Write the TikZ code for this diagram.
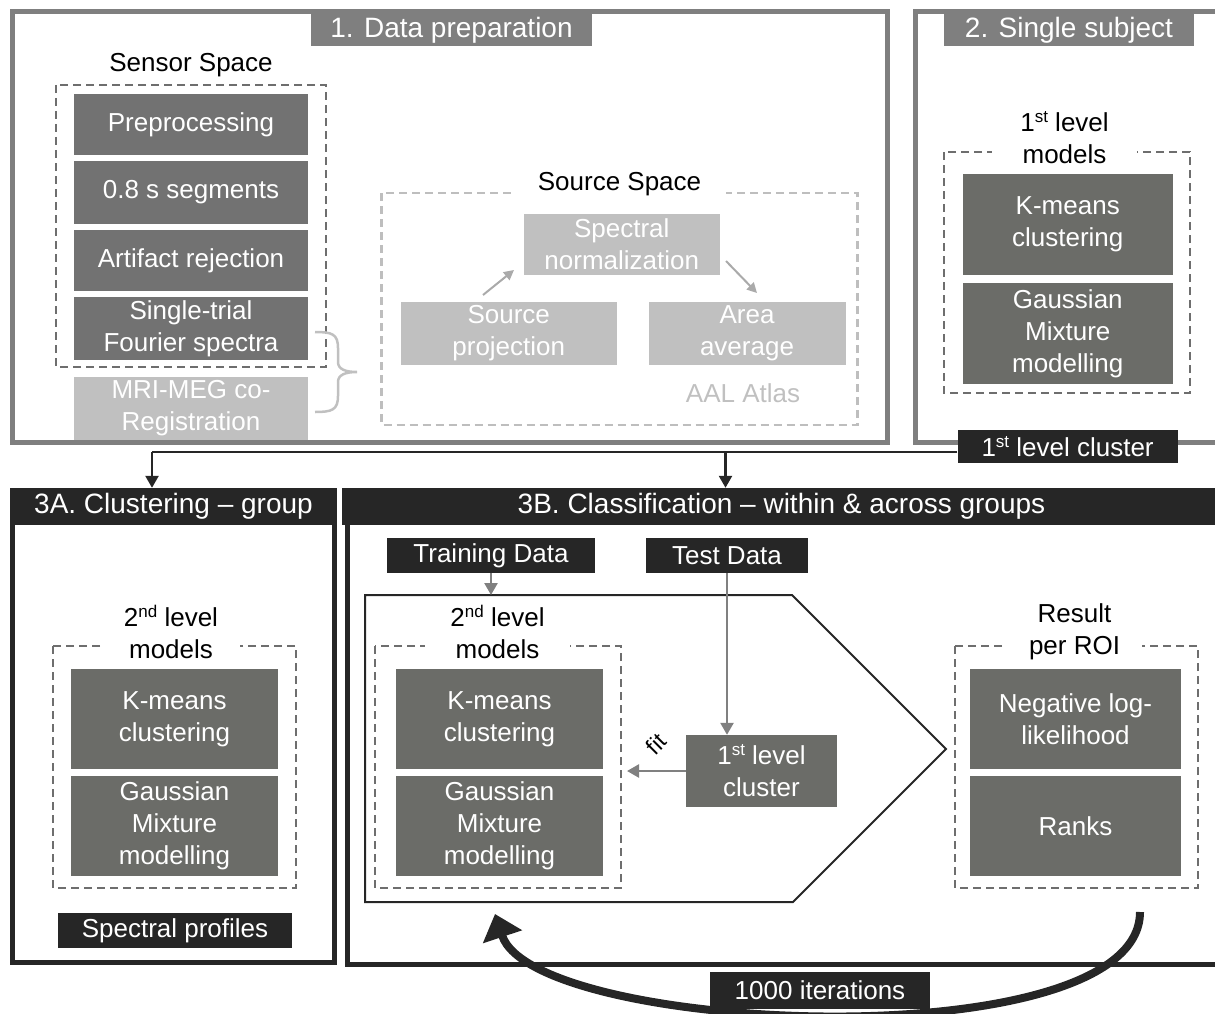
\documentclass[tikz,border=0pt]{standalone}
\usepackage{fontspec}
\setmainfont{Liberation Sans}
\usetikzlibrary{arrows.meta,calc}
\definecolor{framegray}{RGB}{127,127,127}
\definecolor{sensorfill}{RGB}{114,114,114}
\definecolor{lightfill}{RGB}{192,192,192}
\definecolor{modelfill}{RGB}{107,108,104}
\definecolor{blackfill}{RGB}{38,38,38}
\definecolor{dashdark}{RGB}{110,110,110}
\definecolor{dashlight}{RGB}{190,190,190}
\definecolor{arrgray}{RGB}{128,128,128}
\definecolor{lightarrow}{RGB}{170,170,170}
\newcommand{\supx}[1]{\raisebox{9pt}{\fontsize{17}{17}\selectfont #1}}
\begin{document}
\begin{tikzpicture}[x=1pt,y=-1pt,
 base/.style={inner sep=0pt, align=center, font=\fontsize{26}{32}\selectfont},
 sbox/.style={base, fill=sensorfill, text=white},
 lbox/.style={base, fill=lightfill, text=white},
 mbox/.style={base, fill=modelfill, text=white},
 kbox/.style={base, fill=blackfill, text=white},
 tabbox/.style={base, fill=framegray, text=white, font=\fontsize{28}{32}\selectfont},
 lbl/.style={base, fill=white},
 ddash/.style={dashdark, line width=2.5, dash pattern=on 8pt off 5pt},
 ldash/.style={dashlight, line width=2.5, dash pattern=on 8pt off 5pt},
 frameone/.style={framegray, line width=5},
 framethree/.style={blackfill, line width=5},
 karrow/.style={blackfill, line width=2.5, -{Triangle[length=12pt,width=13pt]}},
 garrow/.style={arrgray, line width=2.5, -{Triangle[length=12pt,width=13pt]}},
 larrow/.style={lightarrow, line width=2, -{Triangle[length=10pt,width=10pt]}},
]
\useasboundingbox (0,0) rectangle (1215,1014);
\clip (0,0) rectangle (1215,1014);

% ---------- Box 1: Data preparation ----------
\node[lbox, minimum width=234, minimum height=63] (mri) at (191,408.5) {MRI-MEG co-\\Registration};
\draw[frameone] (12,12) rectangle (887,442);
\node[tabbox, minimum width=281, minimum height=32] (t1) at (451.5,30) {1. Data preparation};
\node[base] (sensl) at (191,65) {Sensor Space};
\draw[ddash] (56,85) rectangle (326,367);
\node[sbox, minimum width=234, minimum height=61] (pre) at (191,124.5) {Preprocessing};
\node[sbox, minimum width=234, minimum height=63] (seg) at (191,192.5) {0.8 s segments};
\node[sbox, minimum width=234, minimum height=61] (art) at (191,260.5) {Artifact rejection};
\node[sbox, minimum width=234, minimum height=63] (four) at (191,328.5) {Single-trial\\Fourier spectra};
\draw[lightfill, line width=2.5] (315,332) .. controls (332,332) and (338,334) .. (338,348) -- (338,362)
  .. controls (338,369) and (345,372) .. (357,372)
  .. controls (345,372) and (338,375) .. (338,382) -- (338,396)
  .. controls (338,410) and (332,412) .. (315,412);

\draw[ldash] (381.5,193) rectangle (857.5,425);
\node[lbl, minimum width=213, inner ysep=3pt] (srcl) at (619.5,184) {Source Space};
\node[lbox, minimum width=196.5, minimum height=61] (specn) at (621.75,244.5) {Spectral\\normalization};
\node[lbox, minimum width=215.5, minimum height=63] (sproj) at (508.75,333.5) {Source\\projection};
\node[lbox, minimum width=197, minimum height=63] (aavg) at (747,333.5) {Area\\average};
\coordinate (a1s) at (483,295); \coordinate (a1e) at (514,270);
\coordinate (a2s) at (726,261); \coordinate (a2e) at (757,293);
\draw[larrow] (a1s) -- (a1e);
\draw[larrow] (a2s) -- (a2e);
\node[base, text=lightfill] (aal) at (743,393) {AAL Atlas};

% ---------- Box 2: Single subject ----------
\draw[frameone] (915,12) rectangle (1240,442);
\node[tabbox, minimum width=250, minimum height=32] (t2) at (1069,30) {2. Single subject};
\draw[ddash] (944,152) rectangle (1190,393);
\node[lbl, minimum width=145] (l1) at (1064.5,137.5) {1\supx{st} level\\models};
\node[mbox, minimum width=209.5, minimum height=101] (km1) at (1067.75,224.5) {K-means\\clustering};
\node[mbox, minimum width=209.5, minimum height=101] (gm1) at (1067.75,333.5) {Gaussian\\Mixture\\modelling};
\node[kbox, minimum width=220, minimum height=33] (cl1) at (1067.6,446.5) {1\supx{st} level cluster};

% ---------- Box 3A ----------
\draw[framethree] (12.5,490) rectangle (334.5,962.5);
\node[kbox, font=\fontsize{28}{32}\selectfont, minimum width=327, minimum height=37] (hA) at (173.5,506.5) {3A. Clustering – group};
\draw[ddash] (53,646) rectangle (296,888);
\node[lbl, minimum width=138] (lA) at (171,632) {2\supx{nd} level\\models};
\node[mbox, minimum width=207, minimum height=100] (kmA) at (174.5,719) {K-means\\clustering};
\node[mbox, minimum width=207, minimum height=100] (gmA) at (174.5,826) {Gaussian\\Mixture\\modelling};
\node[kbox, minimum width=234, minimum height=35] (spec) at (175,930.5) {Spectral profiles};

% ---------- Box 3B ----------
\draw[framethree] (347,490) rectangle (1240,964.5);
\fill[blackfill] (342,488) rectangle (1240,525);
\node[base, text=white, font=\fontsize{28}{32}\selectfont] (hB) at (781.5,506.5) {3B. Classification – within \& across groups};
\node[kbox, minimum width=207.5, minimum height=35] (tr) at (491,555.5) {Training Data};
\node[kbox, minimum width=162, minimum height=35] (te) at (727,555.5) {Test Data};
\coordinate (p1) at (365,595); \coordinate (p2) at (792,595); \coordinate (p3) at (946,749);
\coordinate (p4) at (793,902); \coordinate (p5) at (365,902);
\draw[blackfill, line width=2] (p1) -- (p2) -- (p3) -- (p4) -- (p5) -- cycle;
\draw[garrow] (tr.south) -- (tr.south |- p1);

\draw[ddash] (375,646) rectangle (621,888);
\node[lbl, minimum width=145] (lB) at (497.5,632) {2\supx{nd} level\\models};
\node[mbox, minimum width=207, minimum height=100] (kmB) at (499.5,719) {K-means\\clustering};
\node[mbox, minimum width=207, minimum height=100] (gmB) at (499.5,826) {Gaussian\\Mixture\\modelling};
\node[mbox, minimum width=151, minimum height=72] (cl3) at (761.5,771) {1\supx{st} level\\cluster};
\draw[garrow] (te.south) -- (te.south |- cl3.north);
\coordinate (fitend) at (627,771);
\draw[garrow] (cl3.west) -- (fitend);
\node[inner sep=0pt, rotate=45, font=\fontsize{23}{23}\selectfont] (fitl) at (656,744) {f\kern0.5pt it};

\draw[ddash] (955,646) rectangle (1198,888);
\node[lbl, minimum width=135] (lR) at (1074.5,632) {Result\\per ROI};
\node[mbox, minimum width=211, minimum height=100] (neg) at (1075.5,719) {Negative log-\\likelihood};
\node[mbox, minimum width=211, minimum height=100] (rank) at (1075.5,826) {Ranks};

% ---------- connectors from 1st level cluster ----------
\coordinate (jA) at (152,452); \coordinate (jB) at (725.5,452);
\draw[blackfill, line width=2.5] (cl1.west |- jA) -- (jA);
\draw[karrow] (jA) -- (jA |- hA.north);
\draw[karrow] (jB) -- (jB |- hA.north);

% ---------- iteration loop ----------
\coordinate (cs) at (1140,912); \coordinate (ce) at (495,914);
\draw[blackfill, line width=8, -{Triangle[length=24pt,width=40pt]}] (cs) .. controls (1140,1060) and (535,1035) .. (ce);
\node[kbox, minimum width=220, minimum height=37] (iter) at (820,990.5) {1000 iterations};
\end{tikzpicture}
\end{document}
